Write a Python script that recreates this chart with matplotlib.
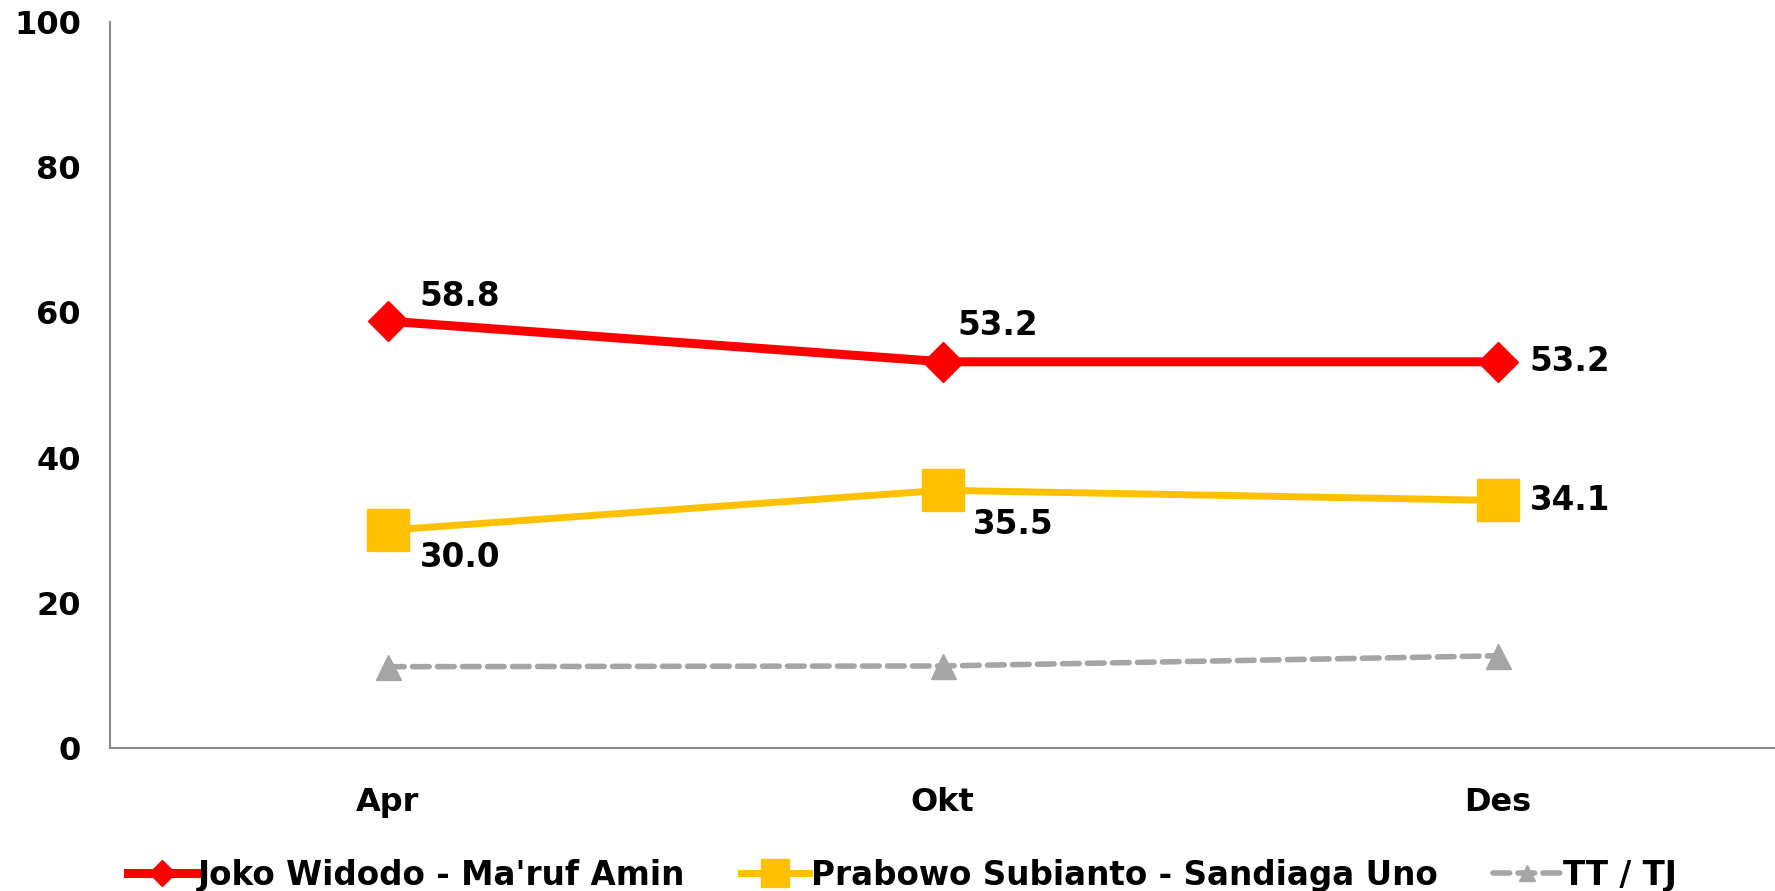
import matplotlib.pyplot as plt

# Data
bulan = ["Apr", "Okt", "Des"]
jokowi = [58.8, 53.2, 53.2]
prabowo = [30.0, 35.5, 34.1]
tt_tj = [11.2, 11.3, 12.7]

plt.rcParams["font.family"] = "DejaVu Sans"
plt.rcParams["font.weight"] = "bold"

fig = plt.figure(figsize=(17.75, 8.91), dpi=100)
ax = fig.add_axes([110 / 1775, 1 - 748 / 891, 1665 / 1775, 726 / 891])

x = [i + 0.5 for i in range(len(bulan))]

ax.plot(x, jokowi, color="#FF0000", lw=6.5, marker="D", ms=20,
        label="Joko Widodo - Ma'ruf Amin", zorder=3)
ax.plot(x, prabowo, color="#FFC000", lw=5, marker="s", ms=30,
        label="Prabowo Subianto - Sandiaga Uno", zorder=3)
ax.plot(x, tt_tj, color="#A5A5A5", lw=4, ls=(0, (3, 1.5)), marker="^", ms=18,
        dash_capstyle="round", label="TT / TJ", zorder=2)

# Data labels
off_j = [(23, 18), (11, 26), (23, 0)]
off_p = [(23, -20), (22, -25), (23, 0)]
for i in range(len(bulan)):
    ax.annotate(f"{jokowi[i]:.1f}", (x[i], jokowi[i]), xytext=off_j[i],
                textcoords="offset points", fontsize=23.5, fontweight="bold",
                ha="left", va="center")
    ax.annotate(f"{prabowo[i]:.1f}", (x[i], prabowo[i]), xytext=off_p[i],
                textcoords="offset points", fontsize=23.5, fontweight="bold",
                ha="left", va="center")

ax.set_xlim(0, 3)
ax.set_ylim(0, 100)
ax.set_yticks(range(0, 101, 20))
ax.set_xticks(x)
ax.set_xticklabels(bulan)
ax.tick_params(axis="y", length=0, pad=21, labelsize=23)
ax.tick_params(axis="x", length=0, pad=28, labelsize=23)
for lab in ax.get_xticklabels() + ax.get_yticklabels():
    lab.set_fontweight("bold")

for s in ["top", "right"]:
    ax.spines[s].set_visible(False)
for s in ["left", "bottom"]:
    ax.spines[s].set_color("#898989")
    ax.spines[s].set_linewidth(1.5)

leg = ax.legend(loc="upper center", bbox_to_anchor=(0.5 - 40 / 1665, -0.112),
                ncol=3, frameon=False, fontsize=23.5, handlelength=2.1,
                handletextpad=0.05, columnspacing=1.7, markerscale=0.65)
for t in leg.get_texts():
    t.set_fontweight("bold")

fig.savefig("out.png", dpi=100)
